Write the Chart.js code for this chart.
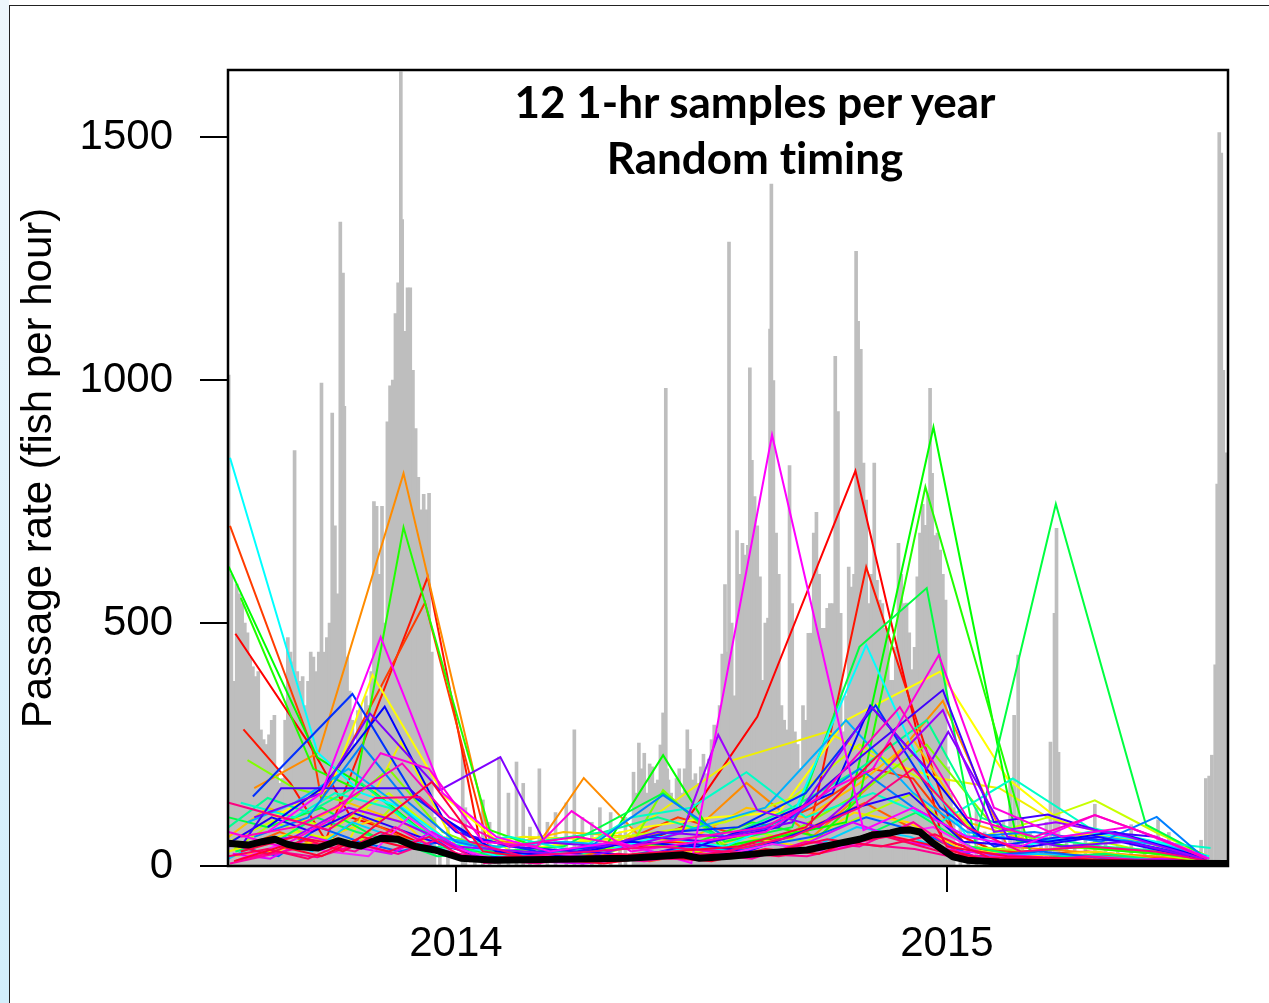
<!DOCTYPE html>
<html>
<head>
<meta charset="utf-8">
<title>Passage rate samples</title>
<script src="https://cdn.jsdelivr.net/npm/chart.js@4.4.0/dist/chart.umd.min.js"></script>
<style>
  html, body { margin: 0; padding: 0; background: #fff; }
  #page { position: relative; width: 1269px; height: 1003px; overflow: hidden; background: #fff; }
  #strip { position: absolute; left: 0; top: 0; width: 9px; height: 1003px; background: linear-gradient(#eef7fc, #d2eefb); }
  #lineTop { position: absolute; left: 9px; top: 5px; right: 0; height: 1px; background: #222; }
  #lineLeft { position: absolute; left: 9px; top: 5px; width: 1px; bottom: 0; background: #222; }
  #chart { position: absolute; left: 0; top: 0; }
  #title { position: absolute; left: 455px; top: 73px; width: 600px; text-align: center;
           font: bold 44px/56px Lato, "Open Sans", sans-serif; color: #000;
           font-variant-ligatures: none; font-feature-settings: "liga" 0; }
</style>
</head>
<body>
<div id="page">
  <div id="strip"></div>
  <div id="lineTop"></div>
  <div id="lineLeft"></div>
  <canvas id="chart" width="1269" height="1003"></canvas>
  <div id="title">12 1-hr samples per year<br>Random timing</div>
</div>
<script>
// x values are days since 1 Jan 2014
const xMin = -169.5, xMax = 574;
const yMax = 1638;
const yearTicks = [0, 365];
const yearLabels = ['2014', '2015'];
const rateTicks = [0, 500, 1000, 1500];

// hourly passage record (grey spikes)
const grayDays = [
  -169, -167, -165, -163, -161, -159, -157, -155, -153, -151, -149, -147, -145, -143, -141, -139, -137, -135,
  -133, -131, -129, -127, -125, -123, -121, -120, -118, -116, -114, -112, -110, -108, -106, -104, -102, -100,
  -98, -96, -94, -92, -90, -88, -86, -84, -83, -81, -79, -77, -75, -73, -71, -69, -67, -65, -63, -61, -59,
  -57, -55, -53, -51, -49, -47, -45, -43, -41, -40, -38, -36, -34, -32, -30, -28, -26, -24, -22, -20, -18, -16,
  -12, -6, 5, 7, 14, 20, 25, 32, 39, 45, 50, 55, 62, 68, 74, 82, 88, 94, 101, 107, 115, 122, 126, 132,
  134, 136, 138, 140, 142, 144, 146, 148, 150, 152, 154, 156, 157, 158, 160, 162, 164, 166, 168, 170, 172, 174,
  176, 178, 180, 182, 184, 186, 188, 190, 192, 194, 196, 198, 200, 202, 203, 205, 207, 209, 211, 213, 215, 217,
  218.5, 220, 222, 224, 226, 228, 230, 232, 233.5, 234.5, 236, 238, 240, 242, 244, 246, 248, 250, 252, 254, 256,
  258, 260, 262, 264, 266, 268, 270, 272, 274, 276, 278, 280, 282, 284, 286, 288, 290, 292, 294, 296, 297.5, 299,
  301, 303, 305, 307, 309, 311, 313, 315, 317, 319, 321, 323, 325, 327, 329, 331, 333, 335, 337, 339, 341, 343,
  345, 347, 349, 351, 352.5, 354, 356, 358, 360, 362, 364, 366, 368, 370,
  375, 381, 387, 393, 401, 407, 412, 415, 418, 421, 427, 435, 439, 442, 445, 446.5, 448, 454, 460, 468, 475,
  483, 492, 502, 512, 522, 530, 542, 554, 557.5, 560, 562, 564.5, 566, 567.5, 569, 570.5, 572, 573.5
];
const grayRate = [
  1010, 600, 380, 580, 560, 540, 500, 480, 430, 410, 390, 400, 280, 260, 250, 270, 300, 310,
  200, 170, 180, 300, 470, 440, 420, 855, 400, 380, 390, 330, 380, 440, 430, 400, 440, 994,
  440, 470, 500, 932, 700, 560, 1325, 1220, 946, 430, 360, 300, 250, 320, 330, 300, 350, 330, 400, 750, 740,
  600, 740, 500, 914, 988, 1000, 1137, 1200, 1634, 1330, 1100, 1190, 1190, 1020, 900, 800, 733, 765, 733, 767, 440, 100,
  60, 80, 240, 120, 60, 136, 90, 224, 150, 214, 170, 80, 200, 90, 110, 130, 280, 100, 90, 120, 110, 70, 100, 193,
  150, 253, 200, 232, 150, 210, 204, 170, 177, 249, 315, 983, 200, 177, 150, 136, 180, 200, 150, 200, 280, 240,
  177, 190, 170, 204, 230, 190, 220, 260, 290, 280, 330, 436, 579, 440, 1284, 500, 350, 690, 600, 664, 640, 660,
  1025, 835, 760, 700, 595, 382, 500, 510, 1105, 1403, 999, 685, 600, 330, 300, 280, 824, 540, 276, 250, 200,
  330, 300, 479, 479, 685, 728, 600, 489, 489, 530, 540, 540, 1049, 935, 520, 276, 350, 615, 574, 600, 1265, 1121,
  1063, 829, 753, 540, 600, 829, 588, 547, 540, 489, 489, 382, 382, 450, 664, 600, 540, 541, 480, 404, 450, 595,
  685, 744, 701, 767, 983, 808, 680, 685, 650, 600, 547, 204, 150, 120,
  110, 80, 120, 70, 60, 90, 180, 310, 434, 100, 70, 60, 90, 255, 520, 695, 234, 60, 50, 60, 127,
  50, 40, 85, 40, 95, 69, 30, 53, 180, 185, 228, 414, 786, 1509, 1467, 1020, 850, 818
];

// mean of all simulated sample runs (black line)
const meanDays = [-169.5, -154.6, -144, -134.6, -125.7, -117.5, -102.6, -87.7, -78.8, -70.6, -55.8, -43.1, -30.5, -15.6,
  3.7, 29, 78, 128, 152, 169, 181, 204, 231, 261, 285.5, 300, 310, 323, 330, 337.5, 345, 354.6, 369.5, 380, 404, 479, 574];
const meanRate = [47, 43, 50, 55, 45, 40, 37, 52, 45, 41, 57, 55, 40, 33,
  16, 12, 14, 16, 20, 23, 16, 20, 27, 33, 47, 55, 64, 68, 73, 74, 70, 47, 19, 12, 8, 6, 5];

// simulated runs of 12 one-hour samples per year: [day, fish per hour]
const runRedA = [[-164,478],[-110,255],[-78,100],[-45,70],[-5,20],[40,15],[85,25],[130,40],[168,80],[224,307],[297,813],[362,50],[400,30],[450,20],[500,15],[550,10]];
const runRedB = [[-158,281],[-123,170],[-97,53],[-21,595],[20,20],[60,10],[110,30],[160,50],[210,40],[263,74],[305,615],[370,68],[410,20],[470,30],[530,15],[560,10]];
const runRedOrange = [[-168,700],[-107,244],[-100,136],[-23,542],[25,30],[70,20],[115,40],[165,100],[215,60],[265,120],[310,200],[340,180],[380,40],[430,25],[490,20],[545,15]];
const runOrangeLow = [[-161,35],[-131,70],[-101,40],[-71,100],[-41,60],[-11,30],[24,10],[64,20],[104,25],[144,10],[184,30],[224,40],[264,80],[304,130],[344,70],[384,20],[434,10],[484,20],[534,8]];
const runOrange = [[-150,160],[-102,234],[-39,808],[25,55],[60,40],[95,181],[137,60],[180,80],[216,171],[265,60],[310,170],[362,340],[410,40],[460,30],[520,20],[560,15]];
const runAmber = [[-169,60],[-140,120],[-110,90],[-80,130],[-50,100],[-15,60],[30,40],[80,70],[130,60],[171,50],[216,120],[260,100],[300,170],[340,260],[380,90],[430,50],[480,70],[540,30]];
const runGoldLow = [[-167,20],[-136,30],[-106,50],[-76,80],[-46,110],[-16,30],[16,12],[56,30],[96,10],[136,25],[176,30],[216,60],[256,40],[296,110],[336,90],[376,35],[426,20],[476,30],[526,12],[560,6]];
const runYellowA = [[-150,80],[-93,163],[-62,393],[-8,142],[40,30],[90,50],[140,80],[190,100],[240,110],[290,300],[360,400],[410,180],[460,70],[510,50],[555,20]];
const runYellowB = [[-169,30],[-120,70],[-80,50],[-41,255],[0,40],[50,60],[122,53],[174,156],[206,218],[276,276],[315,218],[360,180],[404,160],[440,100],[490,60],[540,40],[560,20]];
const runLime = [[-169,50],[-130,100],[-90,80],[-50,150],[-10,60],[40,25],[95,50],[150,70],[200,90],[250,140],[300,250],[345,180],[390,60],[440,100],[475,135],[520,70],[555,25]];
const runLimeLow = [[-165,35],[-135,90],[-105,60],[-75,40],[-45,130],[-15,50],[20,20],[60,35],[100,20],[140,45],[180,30],[220,70],[260,50],[300,100],[340,150],[380,40],[430,30],[480,50],[530,20],[560,8]];
const runChartreuse = [[-155,218],[-120,160],[-80,130],[-50,200],[-10,70],[35,20],[80,30],[130,40],[154,156],[200,40],[250,70],[300,150],[350,250],[400,80],[450,40],[500,30],[550,20]];
const runGreenA = [[-169,616],[-103,223],[-60,150],[-20,60],[15,30],[60,20],[110,35],[154,228],[196,40],[240,60],[290,90],[355,903],[417,53],[460,40],[500,30],[545,20]];
const runGreenB = [[-160,552],[-106,200],[-75,160],[-39,697],[25,74],[70,30],[120,50],[170,40],[220,90],[270,60],[300,140],[349,780],[427,30],[470,40],[520,25],[558,15]];
const runGreenC = [[-169,100],[-140,80],[-100,120],[-60,60],[-20,40],[30,30],[80,40],[154,150],[200,50],[250,80],[300,451],[350,572],[386,50],[446,745],[513,85],[558,20]];
const runGreenLow = [[-164,30],[-134,50],[-104,100],[-74,70],[-44,50],[-14,20],[22,25],[62,10],[102,30],[142,15],[182,20],[222,50],[262,35],[302,60],[342,110],[382,40],[432,15],[482,25],[532,10],[561,5]];
const runSpring = [[-169,80],[-140,140],[-110,110],[-70,170],[-30,80],[10,30],[60,50],[110,70],[150,100],[200,60],[250,120],[300,200],[350,300],[390,100],[430,60],[480,40],[530,30],[560,15]];
const runTeal = [[-160,130],[-120,100],[-90,150],[-50,120],[-10,40],[40,60],[90,30],[130,100],[175,120],[216,193],[260,100],[310,150],[360,90],[414,180],[470,80],[520,50],[561,37]];
const runCyan = [[-168,840],[-103,234],[-70,150],[-40,120],[-10,60],[30,20],[70,25],[110,30],[150,60],[200,40],[250,100],[305,455],[350,180],[380,60],[420,40],[470,70],[520,50],[560,20]];
const runCyanLow = [[-169,15],[-137,60],[-107,30],[-77,90],[-47,60],[-17,40],[18,10],[58,25],[98,15],[138,20],[178,40],[218,25],[258,30],[298,80],[338,60],[378,15],[428,25],[478,20],[528,10],[560,5]];
const runSky = [[-155,90],[-120,130],[-80,200],[-50,140],[-15,60],[30,40],[80,50],[130,40],[180,80],[230,120],[290,300],[340,150],[380,70],[430,50],[480,60],[530,40],[558,20]];
const runAzure = [[-150,60],[-110,100],[-70,249],[-35,130],[0,50],[50,20],[100,40],[154,146],[200,60],[250,100],[300,200],[340,120],[380,60],[430,70],[480,50],[521,101],[555,20]];
const runAzureLow = [[-162,40],[-132,20],[-102,80],[-72,50],[-42,30],[-12,50],[25,15],[65,20],[105,10],[145,30],[185,15],[225,40],[265,60],[305,100],[345,70],[385,20],[435,30],[485,15],[535,10]];
const runBlueA = [[-151,143],[-77,354],[-30,140],[10,60],[60,30],[110,40],[160,70],[210,80],[260,150],[312,331],[360,120],[400,40],[450,60],[500,50],[550,20]];
const runBlueB = [[-140,80],[-100,160],[-53,328],[-10,100],[30,30],[80,20],[130,50],[180,40],[230,90],[280,150],[308,330],[350,200],[390,60],[440,50],[490,70],[540,30],[558,15]];
const runIndigoLow = [[-167,50],[-137,100],[-107,70],[-77,110],[-47,80],[-17,50],[17,20],[57,15],[97,30],[137,20],[177,45],[217,30],[257,70],[297,120],[337,150],[377,50],[427,40],[477,60],[527,30],[559,10]];
const runViolet = [[-160,40],[-130,160],[-90,160],[-60,160],[-35,160],[0,70],[40,40],[90,30],[140,60],[190,50],[240,80],[290,200],[362,362],[400,90],[440,106],[480,70],[520,60],[555,20]];
const runPurpleA = [[-150,100],[-100,150],[-64,314],[-12,156],[33,224],[66,49],[110,40],[150,70],[200,60],[250,90],[309,327],[350,200],[366,276],[410,60],[450,40],[500,50],[545,20]];
const runPurpleB = [[-169,40],[-120,60],[-80,120],[-40,90],[0,40],[50,30],[100,20],[168,68],[195,270],[224,115],[270,80],[320,200],[362,321],[400,70],[446,90],[500,60],[555,15]];
const runPurpleLow = [[-166,25],[-138,15],[-108,60],[-78,40],[-48,25],[-18,70],[15,20],[55,10],[95,5],[135,15],[175,35],[215,20],[255,40],[295,90],[335,50],[375,30],[425,20],[475,10],[525,15],[559,5]];
const runMagentaA = [[-140,70],[-100,150],[-56,471],[-10,150],[30,60],[70,30],[120,50],[175,6],[235,887],[303,74],[340,120],[380,60],[420,40],[475,105],[530,50],[560,15]];
const runMagentaLow = [[-160,15],[-125,50],[-95,30],[-65,20],[-35,100],[-5,40],[35,10],[75,25],[115,15],[155,30],[195,20],[235,45],[275,30],[315,60],[355,80],[395,20],[445,15],[495,10],[545,8]];
const runMagentaB = [[-169,70],[-130,40],[-90,100],[-56,232],[-20,200],[20,50],[60,40],[86,113],[130,30],[180,50],[230,70],[280,160],[310,200],[359,434],[400,120],[450,60],[500,80],[555,20]];
const runPink = [[-160,60],[-120,80],[-90,120],[-40,211],[-5,100],[40,40],[90,60],[130,40],[180,60],[230,80],[270,140],[330,327],[380,100],[430,60],[475,105],[520,60],[558,15]];
const runPinkLow = [[-168,5],[-135,25],[-105,45],[-75,30],[-45,80],[-15,35],[20,15],[60,5],[100,20],[140,10],[180,25],[220,15],[260,50],[300,40],[340,90],[375,25],[420,8],[470,20],[520,10],[558,5]];
const runRoseLow = [[-163,12],[-133,30],[-103,18],[-73,45],[-43,25],[-13,55],[21,6],[61,12],[101,8],[141,18],[181,12],[221,25],[261,20],[301,45],[341,35],[381,12],[431,8],[481,10],[531,5],[561,3]];
const runRose = [[-169,130],[-95,74],[-60,140],[-27,142],[10,50],[50,20],[100,30],[150,40],[200,30],[250,60],[300,120],[340,200],[380,80],[420,30],[470,40],[520,30],[560,10]];
const runRubyLow = [[-169,20],[-140,35],[-110,15],[-80,50],[-50,30],[-20,60],[10,10],[40,20],[80,10],[120,25],[160,15],[200,30],[240,20],[280,40],[320,60],[360,30],[400,10],[450,15],[500,8],[550,5]];
const runScarletLow = [[-168,45],[-140,25],[-112,55],[-84,30],[-56,70],[-28,45],[0,20],[36,8],[76,15],[116,10],[156,25],[196,18],[236,30],[276,55],[316,40],[356,65],[396,18],[446,12],[496,10],[546,6]];
const runCrimson = [[-160,30],[-120,60],[-80,40],[-18,173],[20,30],[60,15],[110,20],[160,30],[210,40],[260,80],[323,253],[365,40],[410,20],[460,15],[510,10],[555,8]];
const runCrimsonLow = [[-165,10],[-130,40],[-100,20],[-70,60],[-40,40],[-5,25],[30,8],[70,15],[110,5],[150,20],[190,10],[230,35],[270,25],[310,70],[350,45],[390,15],[440,10],[490,12],[540,5],[560,3]];

const runs = [runRedA, runRedB, runRedOrange, runOrangeLow, runOrange, runAmber, runGoldLow, runYellowA, runYellowB,
  runLime, runLimeLow, runChartreuse, runGreenA, runGreenB, runGreenC, runGreenLow, runSpring, runTeal, runCyan,
  runCyanLow, runSky, runAzure, runAzureLow, runBlueA, runBlueB, runIndigoLow, runViolet, runPurpleA, runPurpleB,
  runPurpleLow, runMagentaA, runMagentaLow, runMagentaB, runPink, runPinkLow, runRoseLow, runRose, runRubyLow,
  runScarletLow, runCrimson, runCrimsonLow];
const runColors = ['#ff0000', '#ff1400', '#ff3c00', '#ff6000', '#ff8c00', '#ffbf00', '#ffd700', '#ffff00', '#f0f000',
  '#c8ff00', '#b4ff00', '#80ff00', '#00ff00', '#20ff00', '#00ff40', '#00ff60', '#00ff90', '#00ffc8', '#00ffff',
  '#00d0ff', '#00b0ff', '#0080ff', '#0060ff', '#0030ff', '#0000ff', '#2000ff', '#4000ff', '#8000ff', '#a000ff',
  '#e000ff', '#ff00ff', '#ff20ff', '#ff00e0', '#ff00c0', '#ff00a0', '#ff0090', '#ff0080', '#ff0060',
  '#ff0050', '#ff0040', '#ff0030'];

const axisFont = { family: '"Liberation Sans", Arial, sans-serif', size: 42 };

const framePlugin = {
  id: 'frame',
  afterDatasetsDraw(chart) {
    const { ctx, chartArea: a } = chart;
    ctx.save();
    ctx.strokeStyle = '#000';
    ctx.lineWidth = 2.5;
    ctx.strokeRect(a.left, a.top, a.right - a.left, a.bottom - a.top);
    ctx.restore();
  }
};

document.addEventListener('DOMContentLoaded', function () {
  const datasets = [];
  datasets.push({
    type: 'line',
    label: 'Mean',
    data: meanDays.map((d, i) => ({ x: d, y: meanRate[i] })),
    borderColor: '#000',
    borderWidth: 7,
    pointRadius: 0,
    borderJoinStyle: 'round',
    order: 0
  });
  runs.forEach(function (run, i) {
    datasets.push({
      type: 'line',
      label: 'Run ' + (i + 1),
      data: run.map(p => ({ x: p[0], y: p[1] })),
      borderColor: runColors[i],
      borderWidth: 2,
      pointRadius: 0,
      order: runs.length - i + 1
    });
  });
  datasets.push({
    type: 'bar',
    label: 'Hourly passage',
    data: grayDays.map((d, i) => ({ x: d, y: grayRate[i] })),
    backgroundColor: '#bebebe',
    barThickness: 3,
    grouped: false,
    order: 1000
  });

  const ctx = document.getElementById('chart').getContext('2d');
  new Chart(ctx, {
    type: 'bar',
    data: { datasets: datasets },
    plugins: [framePlugin],
    options: {
      responsive: false,
      animation: false,
      events: [],
      layout: { padding: { top: 70, right: 41, bottom: 0, left: 0 } },
      plugins: {
        legend: { display: false },
        tooltip: { enabled: false }
      },
      scales: {
        x: {
          type: 'linear',
          min: xMin,
          max: xMax,
          offset: false,
          afterBuildTicks: function (scale) {
            scale.ticks = yearTicks.map(v => ({ value: v }));
          },
          afterFit: function (scale) { scale.height = 137; },
          grid: { offset: false, drawOnChartArea: false, drawTicks: true, tickLength: 26, color: '#000', lineWidth: 2 },
          border: { display: false },
          ticks: {
            font: axisFont,
            color: '#000',
            padding: 27,
            maxRotation: 0,
            autoSkip: false,
            callback: function (value) {
              const i = yearTicks.indexOf(value);
              return i >= 0 ? yearLabels[i] : '';
            }
          }
        },
        y: {
          min: 0,
          max: yMax,
          afterBuildTicks: function (scale) {
            scale.ticks = rateTicks.map(v => ({ value: v }));
          },
          afterFit: function (scale) { scale.width = 228; },
          grid: { drawOnChartArea: false, drawTicks: true, tickLength: 28, color: '#000', lineWidth: 2 },
          border: { display: false },
          ticks: {
            font: axisFont,
            color: '#000',
            padding: 27,
            callback: function (value) { return String(value); }
          },
          title: {
            display: true,
            text: 'Passage rate (fish per hour)',
            font: axisFont,
            color: '#000',
            padding: { top: 14, bottom: 0 }
          }
        }
      }
    }
  });
});
</script>
</body>
</html>
